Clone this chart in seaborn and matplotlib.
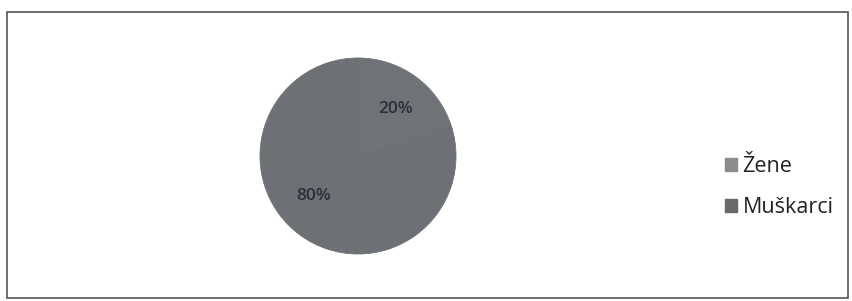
import matplotlib
matplotlib.use("Agg")
import matplotlib.pyplot as plt
from matplotlib.patches import Rectangle
import seaborn as sns

sns.set_theme(style="white")
plt.rcParams["font.family"] = ["Open Sans", "DejaVu Sans"]

labels = ["Žene", "Muškarci"]
values = [20, 80]
slice_colors = ["#6f7378", "#6d7176"]
legend_colors = ["#8c8c8c", "#6a6a6a"]

fig = plt.figure(figsize=(8.52, 3.01), dpi=100)
fig.patch.set_facecolor("white")

# outer frame of the chart area
fig.add_artist(Rectangle((7 / 852, 3 / 301), 841 / 852, 286 / 301,
                         transform=fig.transFigure, fill=False,
                         edgecolor="#555555", linewidth=1.2))

ax = fig.add_axes([260 / 852, 1 - 254 / 301, 196 / 852, 196 / 301])
wedges, texts, autotexts = ax.pie(
    values, colors=slice_colors, startangle=90, counterclock=False,
    autopct="%d%%", pctdistance=0.66,
    wedgeprops=dict(linewidth=0.6),
    textprops=dict(color="#2b2f36", fontsize=12.5, fontweight="semibold"),
)
for w in wedges:
    w.set_edgecolor(w.get_facecolor())
ax.set_xlim(-1, 1)
ax.set_ylim(-1, 1)
ax.set_aspect("equal")
# Excel-like placement of the data labels
x, y = autotexts[0].get_position()
autotexts[0].set_position((x, y * 0.9))
x, y = autotexts[1].get_position()
autotexts[1].set_position((x * 1.18, y * 0.76))

handles = [Rectangle((0, 0), 1, 1, color=c) for c in legend_colors]
fig.legend(handles, labels, loc="center left", bbox_to_anchor=(706 / 852, 1 - 187 / 301),
           frameon=False, fontsize=15.5, handlelength=0.55, handleheight=0.55,
           handletextpad=0.25, labelspacing=0.95, labelcolor="#222222")

fig.savefig("out.png", dpi=100, facecolor="white")
